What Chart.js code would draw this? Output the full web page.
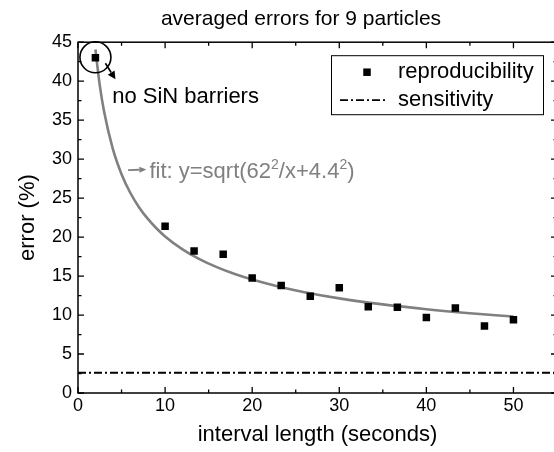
<!DOCTYPE html>
<html><head><meta charset="utf-8">
<script src="https://cdn.jsdelivr.net/npm/chart.js@4.4.1/dist/chart.umd.min.js"></script>
<style>
html,body{margin:0;padding:0;background:#fff;overflow:hidden;width:554px;height:452px;}
#wrap{position:relative;width:602px;height:452px;}
canvas{display:block;}
</style></head><body>
<div id="wrap"><canvas id="c" width="602" height="452"></canvas></div>
<script>
// ---- data ----
const titleText = 'averaged errors for 9 particles';
const xTitle = 'interval length (seconds)';
const yTitle = 'error (%)';
const xTickValues = [0, 10, 20, 30, 40, 50];
const yTickValues = [0, 5, 10, 15, 20, 25, 30, 35, 40, 45];
const measX = [2, 10, 13.33, 16.67, 20, 23.33, 26.67, 30, 33.33, 36.67, 40, 43.33, 46.67, 50];
const measY = [43.0, 21.4, 18.2, 17.8, 14.75, 13.8, 12.4, 13.5, 11.05, 11.0, 9.7, 10.9, 8.6, 9.4];
const fitX = [2, 2.5, 3, 4, 5, 6, 7, 8, 9, 10, 12, 14, 16, 18, 20, 23, 26, 30, 35, 40, 45, 50];
const fitY = [44.06, 39.46, 36.07, 31.31, 28.07, 25.69, 23.84, 22.36, 21.13, 20.09, 18.43, 17.14, 16.11, 15.26, 14.55, 13.66, 12.93, 12.14, 11.37, 10.75, 10.24, 9.81];
const sensX = [0, 55];
const sensY = [2.6, 2.6];
const seriesLabels = ['reproducibility', 'sensitivity', 'fit'];
const noteBarrier = 'no SiN barriers';
const noteFit = ['fit: y=sqrt(62', '2', '/x+4.4', '2', ')'];

const F = "'Liberation Sans', Arial, Helvetica, sans-serif";
const toPts = (xs, ys) => xs.map((x, i) => ({x: x, y: ys[i]}));

const decor = {
  id: 'decor',
  afterDraw(chart) {
    const ctx = chart.ctx, ca = chart.chartArea;
    const xs = chart.scales.x, ys = chart.scales.y;
    ctx.save();
    // frame
    ctx.strokeStyle = '#000'; ctx.lineWidth = 1.5;
    ctx.strokeRect(ca.left, ca.top, ca.right - ca.left, ca.bottom - ca.top);
    // inward ticks
    ctx.lineWidth = 1.3;
    const maj = 6, mnr = 3.5;
    for (let v = 0; v <= xs.max + 0.001; v += 5) {
      const p = xs.getPixelForValue(v);
      const len = (v % 10 === 0) ? maj : mnr;
      ctx.beginPath();
      ctx.moveTo(p, ca.bottom); ctx.lineTo(p, ca.bottom - len);
      ctx.moveTo(p, ca.top); ctx.lineTo(p, ca.top + len);
      ctx.stroke();
    }
    for (let v = 0; v <= ys.max + 0.001; v += 2.5) {
      const p = ys.getPixelForValue(v);
      const len = (v % 5 === 0) ? maj : mnr;
      ctx.beginPath();
      ctx.moveTo(ca.left, p); ctx.lineTo(ca.left + len, p);
      ctx.moveTo(ca.right, p); ctx.lineTo(ca.right - len, p);
      ctx.stroke();
    }
    // circle around first point with arrow
    const cx = xs.getPixelForValue(measX[0]), cy = ys.getPixelForValue(measY[0]) - 0.5;
    ctx.lineWidth = 1.6; ctx.strokeStyle = '#000';
    ctx.beginPath(); ctx.arc(cx, cy, 15.5, 0, Math.PI * 2); ctx.stroke();
    const drawArrow = (x1, y1, x2, y2, col, lw, hl, hw) => {
      const a = Math.atan2(y2 - y1, x2 - x1);
      ctx.strokeStyle = col; ctx.fillStyle = col; ctx.lineWidth = lw;
      ctx.beginPath(); ctx.moveTo(x1, y1);
      ctx.lineTo(x2 - hl * Math.cos(a), y2 - hl * Math.sin(a)); ctx.stroke();
      ctx.beginPath();
      ctx.moveTo(x2, y2);
      ctx.lineTo(x2 - hl * Math.cos(a) + hw * Math.sin(a), y2 - hl * Math.sin(a) - hw * Math.cos(a));
      ctx.lineTo(x2 - hl * Math.cos(a) - hw * Math.sin(a), y2 - hl * Math.sin(a) + hw * Math.cos(a));
      ctx.closePath(); ctx.fill();
    };
    drawArrow(cx + 10, cy + 6, cx + 20, cy + 22, '#000', 1.6, 8, 4);
    // text "no SiN barriers"
    ctx.fillStyle = '#000';
    ctx.font = "22px " + F;
    ctx.textBaseline = 'alphabetic'; ctx.textAlign = 'left';
    ctx.fillText(noteBarrier, xs.getPixelForValue(3.93), ys.getPixelForValue(37.2));
    // fit label
    const gray = '#808080';
    const fy = ys.getPixelForValue(28.6);
    drawArrow(xs.getPixelForValue(5.75), fy, xs.getPixelForValue(7.85), fy - 0.5, gray, 1.8, 7, 3);
    let tx = xs.getPixelForValue(8.2);
    const by = ys.getPixelForValue(27.6);
    ctx.fillStyle = gray;
    noteFit.forEach((s, i) => {
      const sup = (i % 2 === 1);
      ctx.font = (sup ? "14px " : "22px ") + F;
      ctx.fillText(s, tx, sup ? by - 9 : by);
      tx += ctx.measureText(s).width;
    });
    // legend box
    const lw = 212, lh = 59;
    const lx = ca.right - 14 - lw, ly = ca.top + 13;
    ctx.strokeStyle = '#000'; ctx.lineWidth = 1;
    ctx.strokeRect(lx + 0.5, ly + 0.5, lw, lh);
    ctx.font = "22px " + F; ctx.fillStyle = '#000'; ctx.textBaseline = 'middle';
    const d0 = chart.data.datasets[0], d1 = chart.data.datasets[1];
    ctx.fillRect(lx + 36 - 3.75, ly + 17 - 3.75, 7.5, 7.5);
    ctx.fillText(d0.label, lx + 67, ly + 17);
    ctx.save();
    ctx.setLineDash(d1.borderDash); ctx.lineWidth = d1.borderWidth; ctx.strokeStyle = d1.borderColor;
    ctx.beginPath(); ctx.moveTo(lx + 9, ly + 45); ctx.lineTo(lx + 55, ly + 45); ctx.stroke();
    ctx.restore();
    ctx.fillText(d1.label, lx + 67, ly + 45);
    ctx.restore();
  }
};

new Chart(document.getElementById('c'), {
  type: 'scatter',
  data: {
    datasets: [
      { label: seriesLabels[0], data: toPts(measX, measY), pointStyle: 'rect', pointRadius: 5.3,
        backgroundColor: '#000', borderColor: '#000', borderWidth: 0, showLine: false },
      { label: seriesLabels[1], data: toPts(sensX, sensY), showLine: true, pointRadius: 0,
        borderColor: '#000', borderWidth: 1.8, borderDash: [8, 3, 2, 3] },
      { label: seriesLabels[2], data: toPts(fitX, fitY), showLine: true, pointRadius: 0,
        borderColor: '#808080', borderWidth: 2.6, cubicInterpolationMode: 'monotone' }
    ]
  },
  options: {
    responsive: false, animation: false, devicePixelRatio: 1,
    layout: { padding: 0 },
    plugins: {
      legend: { display: false }, tooltip: { enabled: false },
      title: { display: true, text: titleText, color: '#000',
        font: { family: F, size: 21, weight: 'normal' }, padding: { top: 7, bottom: 10 } }
    },
    scales: {
      x: { type: 'linear', min: 0, max: 55, position: 'bottom',
        afterFit(s) { s.height = 59; },
        afterBuildTicks(s) { s.ticks = xTickValues.map(v => ({ value: v })); },
        ticks: { color: '#000', font: { family: F, size: 18 }, padding: 2, maxRotation: 0, autoSkip: false },
        grid: { display: false, drawTicks: false }, border: { display: false },
        title: { display: true, text: xTitle, color: '#000', font: { family: F, size: 22 }, padding: { top: 0, bottom: 4 } } },
      y: { type: 'linear', min: 0, max: 45, position: 'left',
        afterFit(s) { s.width = 78; },
        afterBuildTicks(s) { s.ticks = yTickValues.map(v => ({ value: v })); },
        ticks: { color: '#000', font: { family: F, size: 18 }, padding: 6, autoSkip: false },
        grid: { display: false, drawTicks: false }, border: { display: false },
        title: { display: true, text: yTitle, color: '#000', font: { family: F, size: 22 }, padding: { top: 15, bottom: 0 } } },
      y2: { type: 'linear', min: 0, max: 45, position: 'right',
        afterFit(s) { s.width = 45; },
        ticks: { display: false }, grid: { display: false, drawTicks: false }, border: { display: false } }
    }
  },
  plugins: [decor]
});
</script>
</body></html>
